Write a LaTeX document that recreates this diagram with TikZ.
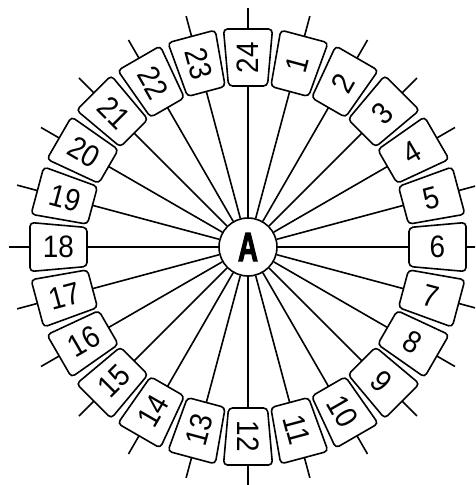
\documentclass[tikz,border=0pt]{standalone}
\usepackage{fontspec}
\setmainfont{Liberation Sans}
\newfontfamily\hubfont[FakeBold=3]{Liberation Sans Bold}
\begin{document}
\begin{tikzpicture}[x=1pt,y=1pt,
  spoke/.style={line width=1.6pt},
  slotbox/.style={line width=1.6pt, rounded corners=4pt, fill=white},
  num/.style={inner sep=0pt},
  hub/.style={circle, draw, line width=1.6pt, minimum size=58pt, inner sep=0pt, fill=white}]
\useasboundingbox (-248,-238) rectangle (227,247);
\clip (-248,-238) rectangle (227,247);
\node[hub] (A) at (0,0) {\resizebox{20pt}{28pt}{\fontsize{40}{40}\hubfont A}};
\foreach \n in {1,...,24}{
  \pgfmathsetmacro\ang{ifthenelse(90-15*\n < -180, 450-15*\n, 90-15*\n)}
  \pgfmathsetmacro\rot{ifthenelse(\ang > 90, \ang-180, ifthenelse(\ang < -90, \ang+180, \ang))}
  \coordinate (in\n) at (\ang:161);
  \coordinate (out\n) at (\ang:218);
  \coordinate (tick\n) at (\ang:239);
  \draw[spoke] (A) -- (in\n);
  \draw[spoke] (out\n) -- (tick\n);
  \draw[slotbox, rotate=\ang] (161,-19.5) -- (218,-24.5) -- (218,24.5) -- (161,19.5) -- cycle;
  \node[num, rotate=\rot] (b\n) at (\ang:189.5) {\scalebox{0.9}[1]{\fontsize{31}{31}\selectfont\n}};
}
\end{tikzpicture}
\end{document}
